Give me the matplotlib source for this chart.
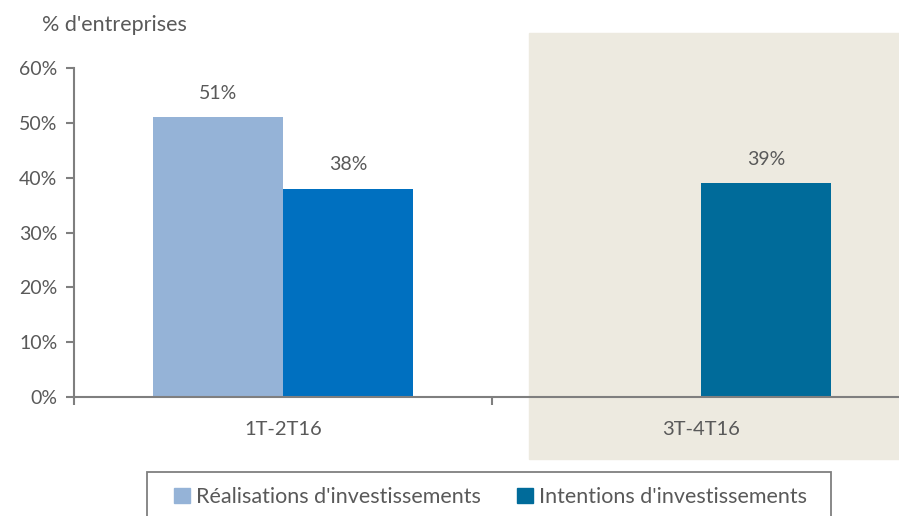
import numpy as np
import matplotlib.pyplot as plt
from matplotlib.patches import Rectangle

categories = ['1T-2T16', '3T-4T16']
realisations = [51, np.nan]
intentions = [38, 39]
intention_colors = ['#0070C0', '#006B9A']
series_names = ["Réalisations d'investissements", "Intentions d'investissements"]
y_ticks = [0, 10, 20, 30, 40, 50, 60]

grey = '#595959'
fs = 14
plt.rcParams['font.family'] = ['Lato', 'DejaVu Sans']

fig = plt.figure(figsize=(8.99, 5.16), dpi=100)
ax = fig.add_axes([74 / 899, 1 - 397 / 516, 836 / 899, 329 / 516])
ax.patch.set_alpha(0)

# shaded forecast zone behind the axes
fig.patches.append(Rectangle((529 / 899, 1 - 459 / 516), 1, 426 / 516,
                             transform=fig.transFigure, color='#EDEAE0', zorder=-5))

x = np.arange(len(categories))
w = 0.311
b1 = ax.bar(x - w / 2, realisations, w, color='#95B3D7', label=series_names[0])
b2 = ax.bar(x + w / 2, intentions, w, color=intention_colors, label=series_names[1])

for bars, vals in [(b1, realisations), (b2, intentions)]:
    for rect, v in zip(bars, vals):
        if np.isnan(v):
            continue
        ax.annotate(f'{v:.0f}%', (rect.get_x() + rect.get_width() / 2, v),
                    xytext=(0, 11), textcoords='offset points',
                    ha='center', va='bottom', fontsize=fs, color=grey)

ax.set_xlim(-0.5, 1.5)
ax.set_ylim(0, 60)
ax.set_yticks(y_ticks)
ax.set_yticklabels([f'{t}%' for t in y_ticks], fontsize=fs, color=grey)
ax.set_xticks([-0.5, 0.5, 1.5])
ax.set_xticklabels([])
ax.set_xticks(x, minor=True)
ax.set_xticklabels(categories, minor=True, fontsize=14.5, color=grey)
ax.tick_params(axis='x', which='minor', length=0, pad=17)
ax.tick_params(axis='both', which='major', length=6, width=1.5, color='#7F7F7F')
ax.tick_params(axis='y', pad=6)

for s in ['top', 'right']:
    ax.spines[s].set_visible(False)
for s in ['left', 'bottom']:
    ax.spines[s].set_color('#7F7F7F')
    ax.spines[s].set_linewidth(1.5)

fig.text(42 / 899, 1 - 25 / 516, "% d'entreprises", fontsize=15.5, color=grey, va='center')

# legend box (bottom edge cut off by the image)
fig.patches.append(Rectangle((147 / 899, -0.1), 684 / 899, 0.1 + 1 - 472 / 516,
                             transform=fig.transFigure, facecolor='white',
                             edgecolor='#7F7F7F', linewidth=1.3, zorder=1))

handles = [Rectangle((0, 0), 1, 1, color='#95B3D7'), Rectangle((0, 0), 1, 1, color='#006B9A')]
leg = fig.legend(handles, series_names, loc='center left', ncol=2,
                 bbox_to_anchor=(174 / 899, 1 - 497 / 516), fontsize=15.5,
                 frameon=False, handlelength=0.75, handleheight=0.75,
                 handletextpad=0.25, columnspacing=1.7, borderpad=0, borderaxespad=0,
                 labelcolor=grey)
leg.set_zorder(3)

fig.savefig('out.png', dpi=100)
